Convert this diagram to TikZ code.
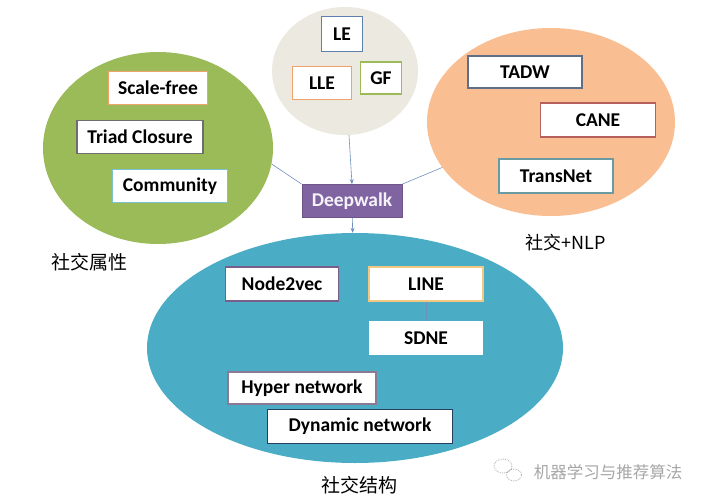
\documentclass[tikz,border=0pt]{standalone}
\usepackage{fontspec}
\setmainfont{Carlito}
\newfontfamily\cjk{Noto Sans CJK SC}
\usetikzlibrary{shapes.geometric,arrows.meta,positioning}
\definecolor{grassgreen}{HTML}{9BBB59}
\definecolor{palegray}{HTML}{EBE9E0}
\definecolor{peach}{HTML}{F9BE91}
\definecolor{aqua}{HTML}{4BACC6}
\definecolor{deeppurple}{HTML}{8064A2}
\definecolor{linkblue}{HTML}{6F8FBF}
\definecolor{orangeedge}{HTML}{EFA36B}
\definecolor{grayedge}{HTML}{6E6E6E}
\definecolor{tealedge}{HTML}{7CC3D0}
\definecolor{blueedge}{HTML}{5F7FAE}
\definecolor{slateedge}{HTML}{5F6F8A}
\definecolor{rededge}{HTML}{B8605C}
\definecolor{transedge}{HTML}{6A9BA3}
\definecolor{purpleedge}{HTML}{7A5E8A}
\definecolor{goldedge}{HTML}{F2C983}
\definecolor{mauveedge}{HTML}{8B7A94}
\definecolor{navyedge}{HTML}{243F60}

\begin{document}
\begin{tikzpicture}[
  x=1pt, y=-1pt,
  >={Stealth[length=5pt,width=4pt]},
  every node/.style={font=\fontsize{19.5}{22}\selectfont\bfseries},
  blob/.style={ellipse, inner sep=0, draw=none},
  tag/.style={draw, fill=white, line width=1.3pt, minimum height=33pt, inner sep=0},
  zh/.style={font=\cjk\fontsize{19}{22}\selectfont},
  link/.style={draw=linkblue, line width=0.6pt}
]
  \useasboundingbox (0,0) rectangle (705,501);

  % Background ellipses
  \node[blob, fill=grassgreen, minimum width=230pt, minimum height=192pt] (social) at (158,148) {};
  \node[blob, fill=palegray, minimum width=146pt, minimum height=128pt] (graph) at (345,71) {};
  \node[blob, fill=peach, minimum width=248pt, minimum height=188pt] (nlp) at (551,122) {};
  \node[blob, fill=aqua, minimum width=416pt, minimum height=230pt] (struct) at (355,348) {};

  % Social properties
  \node[tag, draw=orangeedge, minimum width=99pt] (scale) at (158,88) {Scale-free};
  \node[tag, draw=grayedge, minimum width=126pt] (triad) at (140,137) {Triad Closure};
  \node[tag, draw=tealedge, minimum width=115pt] (comm) at (170,186) {Community};

  % Graph factorization
  \node[tag, draw=blueedge, minimum width=41pt, minimum height=35pt] (le) at (342,34) {LE};
  \node[tag, draw=orangeedge, minimum width=59pt] (lle) at (322,83) {LLE};
  \node[tag, draw=grassgreen, minimum width=41pt, minimum height=32pt] (gf) at (381,78) {GF};

  % Text + NLP
  \node[tag, draw=slateedge, minimum width=114pt, minimum height=32pt] (tadw) at (525,72) {TADW};
  \node[tag, draw=rededge, minimum width=115pt, minimum height=34pt] (cane) at (598,120) {CANE};
  \node[tag, draw=transedge, minimum width=114pt, minimum height=34pt] (trans) at (556,176) {TransNet};

  % Centre
  \node[fill=deeppurple, draw=deeppurple!85!black, line width=0.8pt, text=white!92!deeppurple,
        minimum width=100pt, minimum height=33pt, inner sep=0] (dw) at (352,201) {Deepwalk};

  % Structure
  \node[tag, draw=purpleedge, minimum width=113pt, minimum height=34pt] (n2v) at (282,284) {Node2vec};
  \node[tag, draw=goldedge, minimum width=114pt, minimum height=34pt] (line) at (426,284) {LINE};
  \node[tag, draw=white, minimum width=112pt] (sdne) [below=19pt of line] {SDNE};
  \node[tag, draw=mauveedge, minimum width=148pt, minimum height=32pt] (hyper) at (302,388) {Hyper network};
  \node[tag, draw=navyedge, minimum width=185pt, minimum height=34pt] (dyn) [below=4pt of hyper, xshift=58pt] {Dynamic network};

  % Captions
  \node[zh] (capsocial) at (90,262) {社交属性};
  \node[zh, font=\cjk\fontsize{18}{22}\selectfont] (capnlp) at (566,243) {社交+NLP};
  \node[zh] (capstruct) at (359,485) {社交结构};
  \node[zh, font=\cjk\fontsize{16.5}{20}\selectfont, text=black!35] (mark) at (608,472) {机器学习与推荐算法};
  \draw[black!30, densely dotted, line width=0.8pt] (503,466) ellipse (9 and 7) (514,475) ellipse (7.5 and 6);

  % Links
  \draw[link] (social.-8) -- (dw.north west);
  \draw[link] (nlp) -- (dw.north east);
  \draw[link, ->] (graph) -- (dw.north);
  \draw[link, ->] (dw) -- (struct);
  \draw[link] (line) -- (sdne);
\end{tikzpicture}
\end{document}
